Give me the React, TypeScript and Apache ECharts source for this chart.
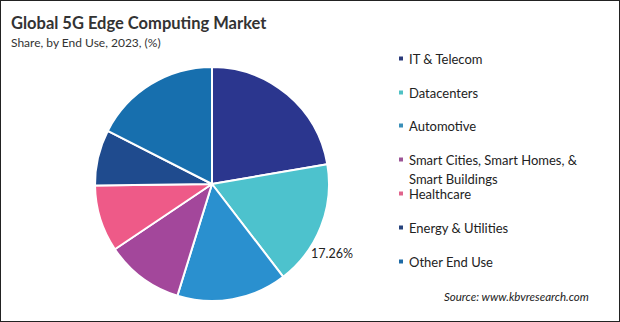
import React, { useEffect, useRef } from "react";
import * as echarts from "echarts";

const categories = [
  "IT & Telecom",
  "Datacenters",
  "Automotive",
  "Smart Cities, Smart Homes, & Smart Buildings",
  "Healthcare",
  "Energy & Utilities",
  "Other End Use",
];
const shares = [22.3, 17.26, 15.2, 10.8, 9.2, 7.7, 17.5];
const sliceColors = ["#2b368e", "#4dc2cd", "#2a90cf", "#a3479b", "#ee5a88", "#1f4b8e", "#176fae"];
const legendColors = ["#2b3a7a", "#4fc1c4", "#3a8fb8", "#9c5496", "#e0648c", "#27437c", "#1d6aa5"];
const labelled = "Datacenters";
const legendTops = [43, 77, 110, 125, 178, 212, 246];

export default function App() {
  const ref = useRef<HTMLDivElement>(null);
  useEffect(() => {
    if (!ref.current) return;
    const chart = echarts.init(ref.current, null, { renderer: "svg" });
    const font = "Lato, 'Open Sans', sans-serif";
    const lIdx = categories.indexOf(labelled);
    chart.setOption({
      animation: false,
      backgroundColor: "#ffffff",
      title: [
        {
          text: "Global 5G Edge Computing Market",
          subtext: "Share, by End Use, 2023, (%)",
          left: 5,
          top: 8,
          itemGap: 5,
          textStyle: { fontFamily: font, fontSize: 16.5, fontWeight: "bold", color: "#333333" },
          subtextStyle: { fontFamily: font, fontSize: 12, color: "#333333" },
        },
        {
          text: "Source: www.kbvresearch.com",
          right: 25,
          top: 284,
          textStyle: { fontFamily: font, fontSize: 11.5, fontStyle: "italic", fontWeight: "normal", color: "#222222" },
        },
      ],
      legend: categories.map((name, i) => ({
        data: [{ name, itemStyle: { color: legendColors[i] } }],
        left: 391,
        top: legendTops[i],
        orient: "vertical",
        icon: "rect",
        itemWidth: 6,
        itemHeight: 6,
        itemGap: 0,
        selectedMode: false,
        formatter: (n: string) =>
          n === "Smart Cities, Smart Homes, & Smart Buildings" ? "\nSmart Cities, Smart Homes, &\nSmart Buildings" : n,
        textStyle: {
          fontFamily: font,
          fontSize: 13,
          color: "#222222",
          lineHeight: 19,
        },
      })),
      graphic: [
        {
          type: "text",
          left: 310,
          top: 246,
          style: {
            text: shares[lIdx].toFixed(2) + "%",
            fontFamily: font,
            fontSize: 12.5,
            fill: "#222222",
          },
        },
      ],
      series: [
        {
          type: "pie",
          center: [211, 183],
          radius: [0, 117],
          startAngle: 90,
          clockwise: true,
          label: { show: false },
          labelLine: { show: false },
          itemStyle: { borderColor: "#ffffff", borderWidth: 2 },
          emphasis: { disabled: true },
          data: categories.map((name, i) => ({
            name,
            value: shares[i],
            itemStyle: { color: sliceColors[i] },
          })),
        },
      ],
    });
    return () => chart.dispose();
  }, []);
  return (
    <div
      style={{
        position: "absolute",
        left: 0,
        top: 0,
        width: 620,
        height: 322,
        boxSizing: "border-box",
        border: "1px solid #222",
        background: "#fff",
      }}
    >
      <div ref={ref} style={{ width: 618, height: 320 }} />
    </div>
  );
}
